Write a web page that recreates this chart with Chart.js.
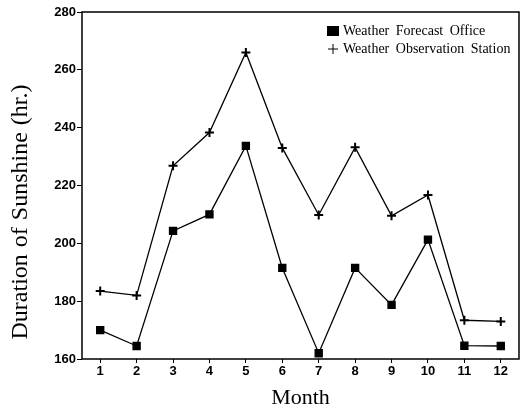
<!DOCTYPE html>
<html>
<head>
<meta charset="utf-8">
<script src="https://cdn.jsdelivr.net/npm/chart.js@4"></script>
<style>
  html, body { margin: 0; padding: 0; background: #fff; }
  #wrap { width: 527px; height: 411px; }
</style>
</head>
<body>
<div id="wrap"><canvas id="myChart" width="527" height="411"></canvas></div>
<script>
const months = [1, 2, 3, 4, 5, 6, 7, 8, 9, 10, 11, 12];
const forecastOffice = [170, 164.5, 204.3, 210, 233.7, 191.5, 162, 191.5, 178.7, 201.3, 164.6, 164.5];
const observationStation = [183.5, 182, 226.8, 238.3, 266, 233, 209.8, 233.2, 209.5, 216.7, 173.4, 173];
const yTicks = [160, 180, 200, 220, 240, 260, 280];

const toPoints = (vals) => months.map((m, i) => ({ x: m, y: vals[i] }));

// box round the plot, legend inside top right, y title (sits a bit low in the original)
const frame = {
    id: 'frame',
    afterDraw(chart) {
        const c = chart.ctx;
        const a = chart.chartArea;
        c.save();
        c.strokeStyle = '#000';
        c.lineWidth = 1.5;
        c.strokeRect(a.left, a.top, a.right - a.left, a.bottom - a.top);

        c.fillStyle = '#000';
        c.font = '14px "Liberation Serif"';
        c.wordSpacing = '3px';
        c.textBaseline = 'middle';
        c.fillRect(327, 26, 12, 10);
        c.fillText('Weather Forecast Office', 343, 31);
        c.lineWidth = 1;
        c.beginPath();
        c.moveTo(328, 49); c.lineTo(338, 49);
        c.moveTo(333, 44); c.lineTo(333, 54);
        c.stroke();
        c.fillText('Weather Observation Station', 343, 49);

        c.font = '24px "Liberation Serif"';
        c.wordSpacing = '1px';
        c.textAlign = 'center';
        c.translate(21, 212);
        c.rotate(-Math.PI / 2);
        c.fillText('Duration of Sunshine (hr.)', 0, 0);
        c.restore();
    }
};

new Chart(document.getElementById('myChart'), {
    type: 'line',
    data: {
        datasets: [{
            label: 'Weather Forecast Office',
            data: toPoints(forecastOffice),
            borderColor: '#000',
            backgroundColor: '#000',
            borderWidth: 1.3,
            pointStyle: 'rect',
            pointRadius: 5,
            pointHoverRadius: 5,
            tension: 0
        }, {
            label: 'Weather Observation Station',
            data: toPoints(observationStation),
            borderColor: '#000',
            backgroundColor: '#000',
            borderWidth: 1.3,
            pointStyle: 'cross',
            pointRadius: 4.5,
            pointBorderWidth: 2,
            pointHoverRadius: 4.5,
            tension: 0
        }]
    },
    options: {
        responsive: false,
        animation: false,
        layout: { padding: { top: 12, right: 8, left: 0, bottom: 0 } },
        plugins: {
            legend: { display: false },
            tooltip: { enabled: false }
        },
        scales: {
            x: {
                type: 'linear',
                min: 0.5,
                max: 12.5,
                afterBuildTicks: (axis) => { axis.ticks = months.map(v => ({ value: v })); },
                afterFit: (axis) => { axis.height = 52; },
                grid: { display: true, drawOnChartArea: false, tickLength: 4, color: '#000' },
                border: { display: false },
                ticks: {
                    color: '#000',
                    font: { family: 'Liberation Sans', size: 13, weight: 'bold' },
                    padding: 1,
                    maxRotation: 0
                },
                title: {
                    display: true,
                    text: 'Month',
                    color: '#000',
                    font: { family: 'Liberation Serif', size: 22 },
                    padding: { top: 2, bottom: 0 }
                }
            },
            y: {
                min: 160,
                max: 280,
                afterBuildTicks: (axis) => { axis.ticks = yTicks.map(v => ({ value: v })); },
                afterFit: (axis) => { axis.width = 82; },
                grid: { display: true, drawOnChartArea: false, tickLength: 5, color: '#000' },
                border: { display: false },
                ticks: {
                    color: '#000',
                    font: { family: 'Liberation Sans', size: 13, weight: 'bold' },
                    padding: 1
                },
                title: { display: false }
            }
        }
    },
    plugins: [frame]
});
</script>
</body>
</html>
